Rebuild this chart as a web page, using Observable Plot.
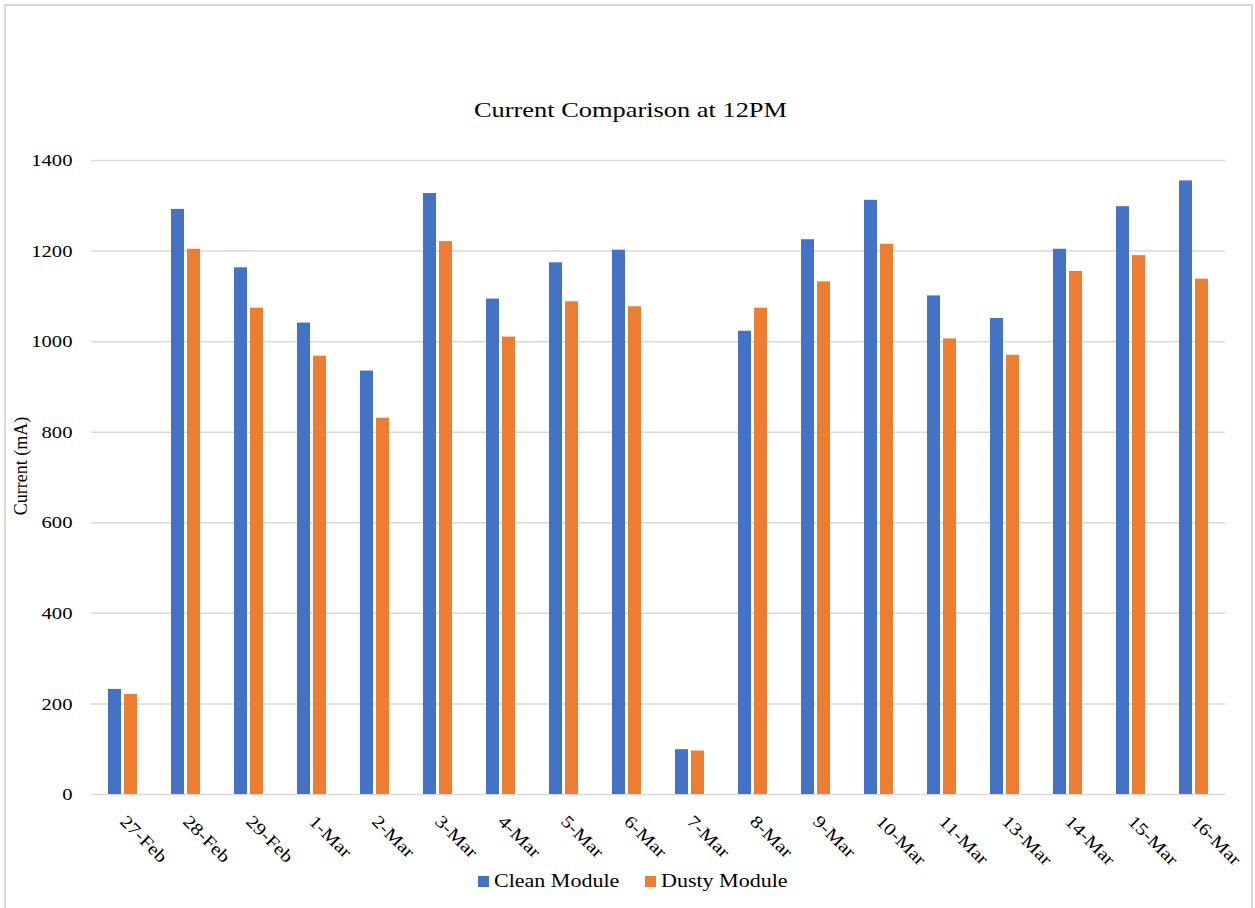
<!DOCTYPE html>
<html>
<head>
<meta charset="utf-8">
<script src="https://cdn.jsdelivr.net/npm/d3@7"></script>
<script src="https://cdn.jsdelivr.net/npm/@observablehq/plot@0.6"></script>
<style>
  html, body { margin: 0; padding: 0; background: #fff; }
  body { width: 1255px; height: 908px; overflow: hidden; position: relative;
         font-family: "Liberation Serif", "Times New Roman", serif; color: #000; }
  #frame { position: absolute; left: 4px; top: 4px; width: 1249px; height: 920px;
           border: 2px solid #d9d9d9; box-sizing: border-box; z-index: 10; pointer-events: none; }
  #chart { position: absolute; left: 0; top: 0; width: 1255px; }
  #title { height: 130px; box-sizing: border-box; padding-top: 98px; padding-left: 6px;
           text-align: center; font-size: 22px; line-height: 24px; }
  #title span { display: inline-block; transform: scaleX(1.2); }
  #ylabel { position: absolute; left: 21px; top: 466px; font-size: 18px; white-space: nowrap;
            transform: translate(-50%, -50%) rotate(-90deg); }
  #legend { display: flex; justify-content: center; align-items: center; gap: 26px;
            padding-left: 10px; margin-top: 4px; font-size: 18.5px; line-height: 22px; }
  #legend .item { display: flex; align-items: center; gap: 5px; }
  #legend .sw { width: 11px; height: 11px; display: inline-block; }
  #legend .lbl { display: inline-block; transform: scaleX(1.19); transform-origin: left center;
                 margin-right: 20px; }
  svg { display: block; background: transparent; }
</style>
</head>
<body>
<div id="chart">
  <div id="title"><span>Current Comparison at 12PM</span></div>
  <div id="plot"></div>
  <div id="legend"></div>
  <div id="ylabel">Current (mA)</div>
</div>
<div id="frame"></div>
<script>
// Daily readings at noon, in mA
const dates = ["27-Feb","28-Feb","29-Feb","1-Mar","2-Mar","3-Mar","4-Mar","5-Mar","6-Mar",
               "7-Mar","8-Mar","9-Mar","10-Mar","11-Mar","13-Mar","14-Mar","15-Mar","16-Mar"];
const cleanModule = [232, 1292, 1163, 1041, 935, 1327, 1094, 1174, 1202,
                     99, 1023, 1225, 1312, 1101, 1051, 1204, 1298, 1355];
const dustyModule = [221, 1204, 1074, 968, 831, 1221, 1010, 1088, 1077,
                     96, 1074, 1132, 1215, 1006, 970, 1155, 1190, 1138];
const seriesNames = ["Clean Module", "Dusty Module"];
const seriesColors = ["#4472C4", "#ED7D31"];
const yTicks = [0, 200, 400, 600, 800, 1000, 1200, 1400];

const rows = dates.flatMap((d, i) => [
  {date: d, series: seriesNames[0], value: cleanModule[i]},
  {date: d, series: seriesNames[1], value: dustyModule[i]}
]);

const font = '"Liberation Serif", "Times New Roman", serif';

const chart = Plot.plot({
  width: 1255,
  height: 736,
  marginTop: 30,
  marginLeft: 90,
  marginRight: 29,
  marginBottom: 72,
  style: {fontFamily: font, fontSize: "17px", color: "#000", background: "transparent"},
  fx: {domain: dates, padding: 0},
  x: {domain: seriesNames, paddingInner: 0.18, paddingOuter: 0.95, axis: null},
  y: {domain: [0, 1400]},
  color: {domain: seriesNames, range: seriesColors},
  marks: [
    Plot.gridY(yTicks, {stroke: "#d9d9d9", strokeOpacity: 1, strokeWidth: 1.5}),
    Plot.barY(rows, {fx: "date", x: "series", y: "value", fill: "series"}),
    Plot.axisY(yTicks, {
      tickSize: 0, tickPadding: 19, fontSize: 17.5, fontFamily: font,
      tickFormat: d => String(d), label: null
    }),
    Plot.axisFx({
      anchor: "bottom", tickRotate: 45, tickSize: 0, tickPadding: 24,
      fontSize: 17.5, fontFamily: font, label: null
    })
  ]
});
document.getElementById("plot").appendChild(chart);

// Widen the axis lettering slightly, in the style of the original office chart
chart.querySelectorAll("text").forEach(t => {
  const w = t.getComputedTextLength();
  if (w > 0) {
    t.setAttribute("textLength", (w * 1.18).toFixed(1));
    t.setAttribute("lengthAdjust", "spacingAndGlyphs");
  }
});

const legend = d3.select("#legend");
seriesNames.forEach((name, i) => {
  const item = legend.append("div").attr("class", "item");
  item.append("span").attr("class", "sw").style("background", seriesColors[i]);
  item.append("span").attr("class", "lbl").text(name);
});
</script>
</body>
</html>
